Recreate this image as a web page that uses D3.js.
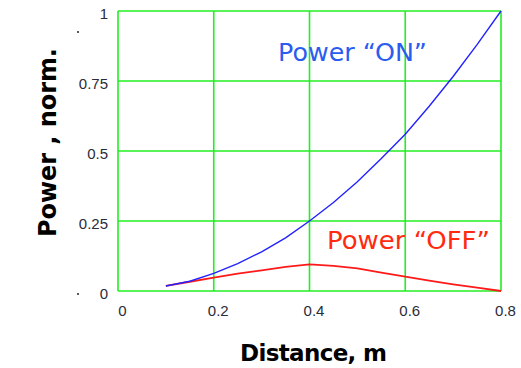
<!DOCTYPE html>
<html lang="en">
	<head>
		<meta charset="utf-8">
		<title>power vs distance</title>
		<script type="text/javascript" src="https://d3js.org/d3.v7.min.js"></script>
		<style type="text/css">
			body {
				margin: 0;
				background-color: #fff;
			}
			svg {
				display: block;
				background-color: #fff;
			}
			.tick text {
				font-family: "Liberation Sans", sans-serif;
				font-size: 15px;
				fill: #2b2b3a;
			}
			.title {
				font-family: "DejaVu Sans", sans-serif;
				font-weight: bold;
				fill: #000;
			}
			.lbl {
				font-family: "DejaVu Sans", sans-serif;
			}
		</style>
	</head>
	<body>
		<script type="text/javascript">

			// distance, m
			var distance = [0.1, 0.15, 0.2, 0.25, 0.3, 0.35, 0.4, 0.45, 0.5, 0.55, 0.6, 0.65, 0.7, 0.75, 0.8];
			// normalised power
			var powerOn  = [0.018, 0.035, 0.063, 0.098, 0.14, 0.19, 0.25, 0.316, 0.39, 0.473, 0.56, 0.66, 0.766, 0.88, 1.0];
			var powerOff = [0.018, 0.033, 0.048, 0.062, 0.074, 0.086, 0.095, 0.09, 0.081, 0.066, 0.051, 0.037, 0.024, 0.012, 0.0];

			var xTicks = [0, 0.2, 0.4, 0.6, 0.8];
			var yTicks = [0, 0.25, 0.5, 0.75, 1];

			var width = 521, height = 368;
			var margin = {top: 11, right: 20, bottom: 77, left: 118};

			var svg = d3.select("body")
						.append("svg")
						.attr("width", width)
						.attr("height", height);

			var x = d3.scaleLinear()
						.domain([0, 0.8])
						.range([margin.left, width - margin.right]);

			var y = d3.scaleLinear()
						.domain([0, 1])
						.range([height - margin.bottom, margin.top]);

			// green grid
			var grid = svg.append("g")
						.attr("stroke", "#22ee22")
						.attr("stroke-width", 1.6);

			grid.selectAll("line.v")
				.data(xTicks)
				.enter()
				.append("line")
				.attr("class", "v")
				.attr("x1", function(d) { return x(d); })
				.attr("x2", function(d) { return x(d); })
				.attr("y1", y(0))
				.attr("y2", y(1));

			grid.selectAll("line.h")
				.data(yTicks)
				.enter()
				.append("line")
				.attr("class", "h")
				.attr("y1", function(d) { return y(d); })
				.attr("y2", function(d) { return y(d); })
				.attr("x1", x(0))
				.attr("x2", x(0.8));

			// axes: labels only
			var xAxis = d3.axisBottom(x)
						.tickValues(xTicks)
						.tickFormat(d3.format("~g"))
						.tickSize(0)
						.tickPadding(14);

			svg.append("g")
				.attr("transform", "translate(4," + y(0) + ")")
				.call(xAxis)
				.call(function(g) { g.select(".domain").remove(); });

			var yAxis = d3.axisLeft(y)
						.tickValues(yTicks)
						.tickFormat(d3.format("~g"))
						.tickSize(0)
						.tickPadding(10);

			svg.append("g")
				.attr("transform", "translate(" + x(0) + ",3)")
				.call(yAxis)
				.call(function(g) { g.select(".domain").remove(); });

			// curves
			var line = d3.line()
						.x(function(d) { return x(d[0]); })
						.y(function(d) { return y(d[1]); });

			svg.append("path")
				.datum(d3.zip(distance, powerOff))
				.attr("fill", "none")
				.attr("stroke", "#ff1a1a")
				.attr("stroke-width", 1.8)
				.attr("d", line);

			svg.append("path")
				.datum(d3.zip(distance, powerOn))
				.attr("fill", "none")
				.attr("stroke", "#2222ff")
				.attr("stroke-width", 1.4)
				.attr("d", line);

			// series labels
			svg.append("text")
				.attr("class", "lbl")
				.attr("x", 278)
				.attr("y", 61)
				.attr("font-size", 25)
				.attr("textLength", 149)
				.attr("lengthAdjust", "spacingAndGlyphs")
				.attr("fill", "#2a5cf0")
				.text("Power \u201cON\u201d");

			svg.append("text")
				.attr("class", "lbl")
				.attr("x", 327)
				.attr("y", 249)
				.attr("font-size", 25)
				.attr("textLength", 163)
				.attr("lengthAdjust", "spacingAndGlyphs")
				.attr("fill", "#ff2a10")
				.text("Power \u201cOFF\u201d");

			// axis titles
			svg.append("text")
				.attr("class", "title")
				.attr("x", 240)
				.attr("y", 361)
				.attr("font-size", 23)
				.attr("textLength", 147)
				.text("Distance, m");

			svg.append("text")
				.attr("class", "title")
				.attr("transform", "translate(56,237) rotate(-90)")
				.attr("font-size", 24)
				.attr("textLength", 189)
				.text("Power , norm.");

			// the two stray dots left of the axis
			svg.selectAll("circle.dot")
				.data([1, 0])
				.enter()
				.append("circle")
				.attr("class", "dot")
				.attr("cx", 78)
				.attr("cy", function(d) { return d ? 32 : 294; })
				.attr("r", 1.1)
				.attr("fill", "#333");

		</script>
	</body>
</html>
